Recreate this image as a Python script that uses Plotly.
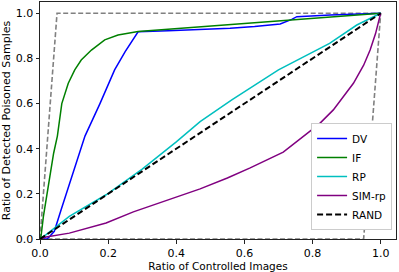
import plotly.graph_objects as go

# ---- data ----
dv_x = [0, 0.02, 0.027, 0.042, 0.062, 0.081, 0.101, 0.132, 0.176, 0.219, 0.25, 0.278, 0.288,
        0.376, 0.47, 0.558, 0.63, 0.705, 0.739, 0.754, 0.852, 1.0]
dv_y = [0, 0.0, 0.009, 0.034, 0.13, 0.218, 0.307, 0.456, 0.6, 0.749, 0.83, 0.897, 0.918,
        0.923, 0.928, 0.934, 0.942, 0.953, 0.973, 0.985, 0.992, 1.0]

if_x = [0, 0.003, 0.01, 0.018, 0.03, 0.04, 0.051, 0.064, 0.083, 0.102, 0.121, 0.151, 0.19,
        0.229, 0.288, 0.376, 0.47, 0.558, 0.75, 1.0]
if_y = [0, 0.012, 0.1, 0.17, 0.29, 0.38, 0.456, 0.6, 0.69, 0.749, 0.793, 0.837, 0.882,
        0.904, 0.919, 0.929, 0.94, 0.947, 0.97, 1.0]

rp_x = [0, 0.018, 0.086, 0.145, 0.194, 0.3, 0.4, 0.47, 0.563, 0.7, 0.85, 0.93, 1.0]
rp_y = [0, 0.019, 0.1, 0.152, 0.196, 0.31, 0.43, 0.52, 0.616, 0.749, 0.867, 0.948, 1.0]

sim_x = [0, 0.018, 0.086, 0.194, 0.274, 0.372, 0.47, 0.55, 0.617, 0.714, 0.773, 0.82,
         0.861, 0.92, 0.95, 0.969, 0.985, 1.0]
sim_y = [0, 0.009, 0.026, 0.071, 0.12, 0.17, 0.222, 0.27, 0.315, 0.385, 0.455, 0.51,
         0.572, 0.69, 0.77, 0.837, 0.91, 1.0]

rand_x = [0, 1]
rand_y = [0, 1]

upper_x = [0, 0.05, 1.0]
upper_y = [0, 1.0, 1.0]
lower_x = [0, 0.95, 1.0]
lower_y = [0, 0.0, 1.0]

x_ticks = [0.0, 0.2, 0.4, 0.6, 0.8, 1.0]
y_ticks = [0.0, 0.2, 0.4, 0.6, 0.8, 1.0]

FONT = "DejaVu Sans"

fig = go.Figure()
fig.add_trace(go.Scatter(x=upper_x, y=upper_y, mode="lines", showlegend=False,
                         line=dict(color="#808080", width=1.6, dash="5px,2.5px")))
fig.add_trace(go.Scatter(x=lower_x, y=lower_y, mode="lines", showlegend=False,
                         line=dict(color="#808080", width=1.6, dash="5px,2.5px")))
fig.add_trace(go.Scatter(x=dv_x, y=dv_y, mode="lines", name="DV",
                         line=dict(color="#0000ff", width=1.5)))
fig.add_trace(go.Scatter(x=if_x, y=if_y, mode="lines", name="IF",
                         line=dict(color="#008000", width=1.5)))
fig.add_trace(go.Scatter(x=rp_x, y=rp_y, mode="lines", name="RP",
                         line=dict(color="#00bfbf", width=1.5)))
fig.add_trace(go.Scatter(x=sim_x, y=sim_y, mode="lines", name="SIM-rp",
                         line=dict(color="#800080", width=1.5)))
fig.add_trace(go.Scatter(x=rand_x, y=rand_y, mode="lines", name="RAND",
                         line=dict(color="#000000", width=2, dash="6px,3px")))

axis_common = dict(showline=True, mirror=True, linecolor="#222222", linewidth=1,
                   ticks="outside", ticklen=3.5, tickcolor="#222222", tickwidth=1,
                   showgrid=False, zeroline=False, automargin=False,
                   tickfont=dict(family=FONT, size=11, color="#000000"))

fig.update_layout(
    width=399, height=272,
    margin=dict(l=40, r=3, t=2, b=33),
    paper_bgcolor="white", plot_bgcolor="white",
    font=dict(family=FONT, color="#000000"),
    xaxis=dict(range=[0, 1.045], tickvals=x_ticks, ticktext=[f"{v:.1f}" for v in x_ticks],
               title=dict(text="Ratio of Controlled Images", font=dict(family=FONT, size=10.5),
                          standoff=3),
               **axis_common),
    yaxis=dict(range=[0, 1.05], tickvals=y_ticks, ticktext=[f"{v:.1f}" for v in y_ticks],
               title=dict(text="Ratio of Detected Poisoned Samples", font=dict(family=FONT, size=11),
                          standoff=3),
               **axis_common),
    legend=dict(x=0.989, xanchor="right", y=0.038, yanchor="bottom",
                bgcolor="white", bordercolor="#cccccc", borderwidth=1,
                font=dict(family=FONT, size=10.5), tracegroupgap=0,
                itemwidth=30),
)

fig.write_html("out.html", config={"displayModeBar": False},
               post_script="document.body.style.margin='0';")
